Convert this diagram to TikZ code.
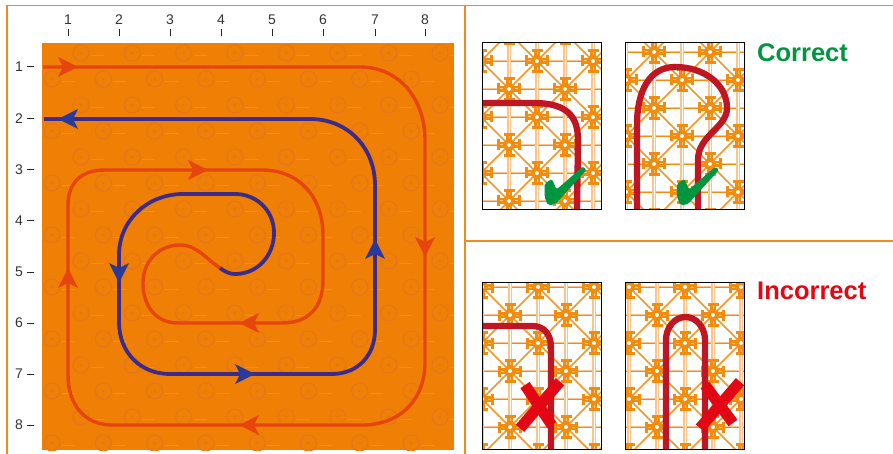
\documentclass[tikz,border=0pt]{standalone}
\usepackage{fontspec}
\setmainfont{Liberation Sans}
\definecolor{frameor}{HTML}{EE8A1E}
\definecolor{plate}{HTML}{EF8005}
\definecolor{platedk}{HTML}{E5771A}
\definecolor{platelt}{HTML}{F28D20}
\definecolor{redpipe}{HTML}{E6450F}
\definecolor{bluepipe}{HTML}{3B2C8A}
\definecolor{bluehead}{HTML}{2A3A9C}
\definecolor{pipe}{HTML}{BE1622}
\definecolor{okgreen}{HTML}{009640}
\definecolor{badred}{HTML}{E30613}
\definecolor{gridlt}{HTML}{FBC48A}
\definecolor{gridor}{HTML}{F28C0F}
\definecolor{ticktext}{HTML}{333333}
\tikzset{
  x=1pt,y=-1pt,
  ticklabel/.style={font=\fontsize{14}{16}\selectfont,text=ticktext,inner sep=0pt},
  tickmark/.style={line width=1pt,draw=black!85},
  pipeA/.style={draw=redpipe,line width=3.4pt,line join=round},
  pipeB/.style={draw=bluepipe,line width=3.8pt,line join=round},
  heatpipe/.style={draw=pipe,line width=6.3pt},
  verdict/.style={font=\bfseries\fontsize{25.5}{28}\selectfont,inner sep=0pt,anchor=west},
  badmark/.style={draw=badred,line width=11pt},
}
\newcommand{\barbed}[4]{%
  \begin{scope}[shift={(#1,#2)},rotate=#3]
    \fill[#4] (11,0) -- (-9,-10) -- (-4,0) -- (-9,10) -- cycle;
  \end{scope}}
\newcommand{\rosette}[2]{%
  \begin{scope}[shift={(#1,#2)}]
    \foreach \a in {0,90,180,270}{
      \begin{scope}[rotate=\a]
        \draw[gridor,line width=6pt] (0,0) -- (9,0);
        \draw[gridor,line width=3pt] (10.5,-5.5) -- (10.5,5.5);
        \draw[gridlt,line width=1pt] (6,0) -- (9,0);
      \end{scope}}
    \fill[gridor] (0,0) circle (5.8);
    \fill[white] (0,0) circle (2);
  \end{scope}}
\newcommand{\tile}[4]{% left, top, origin x, origin y
  \begin{scope}
    \clip (#1,#2) rectangle ++(119,167);
    \fill[white] (#1,#2) rectangle ++(119,167);
    \foreach \j in {-2,...,8}{
      \pgfmathsetmacro{\yy}{#4+28*\j}
      \draw[gridlt,line width=2.8pt] (#1,\yy) -- ++(119,0);
      \draw[gridor,line width=.7pt] (#1,\yy) -- ++(119,0);
    }
    \foreach \i in {-3,...,6}{
      \pgfmathsetmacro{\xx}{#3+28*\i}
      \draw[gridlt,line width=3.4pt] (\xx,#2) -- ++(0,167);
      \draw[white,line width=1pt] (\xx,#2) -- ++(0,167);
    }
    \foreach \k in {-8,...,8}{
      \pgfmathsetmacro{\xa}{#3+56*\k}
      \draw[gridor!90!white,line width=1.5pt] (\xa,#4-56) -- ++(280,280);
      \draw[gridor!90!white,line width=1.5pt] (\xa,#4-56) -- ++(-280,280);
    }
    \foreach \i in {-3,...,6}{
      \foreach \j in {-2,...,8}{
        \pgfmathparse{int(mod(\i+\j+100,2))}
        \ifnum\pgfmathresult=0
          \pgfmathsetmacro{\xx}{#3+28*\i}
          \pgfmathsetmacro{\yy}{#4+28*\j}
          \rosette{\xx}{\yy}
        \fi
      }}
  \end{scope}}
\newcommand{\tileframe}[2]{\draw[black,line width=1pt] (#1,#2) rectangle ++(119,167);}
\newcommand{\tick}[1]{%
  \fill[okgreen,rounded corners=2pt,shift={(#1,0)}] (544.5,183.5) -- (552,179) -- (556.5,189.5) -- (583,166.5) -- (586.5,170) -- (555.5,204) -- (548,205.5) -- (544.5,197) -- cycle;}
\begin{document}
\begin{tikzpicture}
\useasboundingbox (0,0) rectangle (893,454);
% frames
\draw[frameor,line width=1.2pt] (7,454) -- (7,5.5) -- (893,5.5);
\draw[frameor,line width=1.2pt] (465,5.5) -- (465,454);
\draw[frameor,line width=1.2pt] (465,241) -- (893,241);
% plate
\begin{scope}
  \clip (42,43) rectangle (454,450);
  \fill[plate] (42,43) rectangle (454,450);
  \foreach \r in {0,...,15}{
    \pgfmathsetmacro{\yy}{53+26*\r}
    \pgfmathsetmacro{\ox}{mod(\r,2)==0 ? 29 : 0}
    \foreach \c in {0,...,8}{
      \pgfmathsetmacro{\xx}{52+\ox+51.3*\c}
      \draw[platedk,line width=1.2pt] (\xx,\yy) circle (8);
      \fill[platedk] (\xx,\yy) circle (1.6);
      \draw[platelt,line width=.7pt] (\xx+10,\yy+2) -- ++(13,0);
    }
  }
\end{scope}
% red circuit
\draw[pipeA] (43,67) -- (360,67) .. controls (400,67) and (425,100) .. (425,140)
  -- (425,362) .. controls (425,400) and (400,425) .. (362,425)
  -- (112,425) .. controls (85,425) and (68,405) .. (68,375)
  -- (68,205) .. controls (68,182) and (82,170) .. (105,170)
  -- (262,170) .. controls (300,170) and (323,198) .. (323,235)
  -- (323,280) .. controls (323,308) and (308,323) .. (282,323)
  -- (178,323) .. controls (155,323) and (143,305) .. (143,283)
  .. controls (143,260) and (160,245) .. (180,245)
  .. controls (197,245) and (205,258) .. (220,268);
% blue circuit
\draw[pipeB] (220,268) .. controls (225,272) and (230,274) .. (235,274)
  .. controls (258,274) and (274,255) .. (274,233)
  .. controls (274,210) and (256,194) .. (235,194)
  -- (183,194) .. controls (148,194) and (119,220) .. (119,255)
  -- (119,322) .. controls (119,352) and (140,374) .. (170,374)
  -- (332,374) .. controls (358,374) and (375,355) .. (375,330)
  -- (375,185) .. controls (375,148) and (348,119) .. (310,119)
  -- (44,119);
% arrowheads
\barbed{67}{67}{0}{redpipe}
\barbed{69}{119}{180}{bluehead}
\barbed{197}{170}{0}{redpipe}
\barbed{425}{246}{270}{redpipe}
\barbed{375}{250}{90}{bluehead}
\barbed{244}{374}{0}{bluehead}
\barbed{250}{323}{180}{redpipe}
\barbed{250}{425}{180}{redpipe}
\barbed{68}{279}{90}{redpipe}
\barbed{119}{272}{270}{bluehead}
% scale ticks and numbers
\foreach \n/\p in {1/68,2/119,3/170,4/221,5/272,6/323,7/375,8/425}{
  \node[ticklabel] (top\n) at (\p,20) {\n};
  \draw[tickmark] (\p,29.5) -- (\p,36.5);
}
\foreach \n/\p in {1/67,2/119,3/170,4/221,5/272,6/323,7/374,8/425}{
  \node[ticklabel] (left\n) at (19,\p) {\n};
  \draw[tickmark] (26.5,\p) -- (34,\p);
}
% example panels
\tile{482}{43}{537}{61}
\draw[heatpipe] (482,103) -- (533,103) .. controls (562,103) and (578,112) .. (578,140) -- (577,210);
\tick{0}
\tileframe{482}{43}
\tile{625}{43}{654}{52}
\draw[heatpipe] (637,210) -- (637,125) .. controls (637,90) and (650,67) .. (675,67)
  .. controls (705,67) and (727,85) .. (727,108) .. controls (727,128) and (698,135) .. (698,160) -- (698,210);
\tick{132.5}
\tileframe{625}{43}
\tile{482}{282}{538}{287}
\draw[heatpipe] (482,326) -- (532,326) .. controls (545,326) and (551,335) .. (551,348) -- (551,449);
\draw[badmark] (525,385) -- (551.7,425);
\draw[badmark] (560,381.7) -- (520,428.3);
\tileframe{482}{282}
\tile{625}{282}{685}{287}
\draw[heatpipe] (666,449) -- (666,340) arc[start angle=180,end angle=360,x radius=19.5,y radius=23] -- (705,449);
\draw[badmark] (705,385) -- (733,423);
\draw[badmark] (740,381.7) -- (700,428);
\tileframe{625}{282}
\node[verdict,text=okgreen] (ok) at (757,53) {Correct};
\node[verdict,text=badred] (bad) at (757,291) {Incorrect};
\end{tikzpicture}
\end{document}
